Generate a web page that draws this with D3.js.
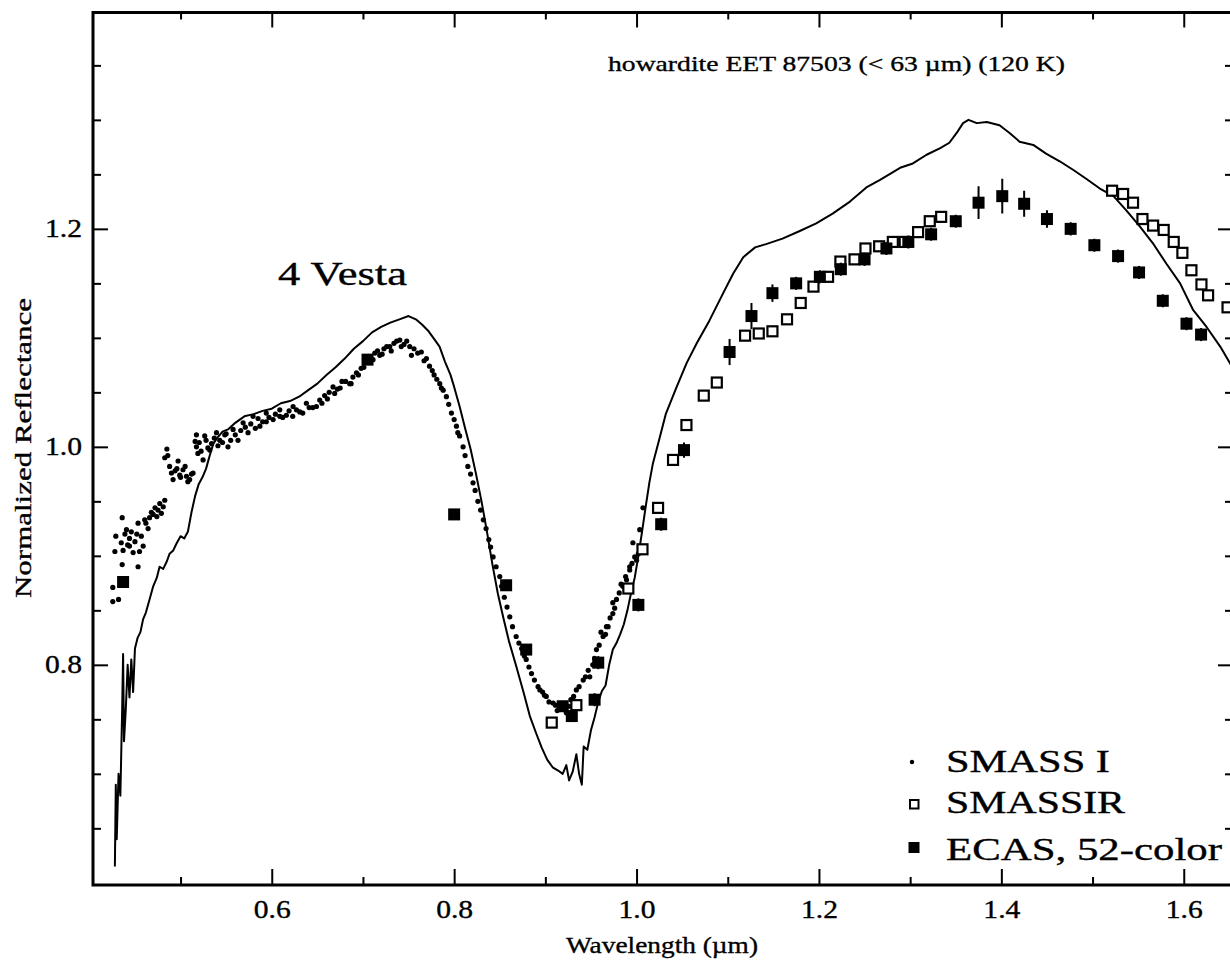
<!DOCTYPE html>
<html>
<head>
<meta charset="utf-8">
<script src="https://cdn.jsdelivr.net/npm/d3@7"></script>
<style>
  body { margin: 0; background: #fff; }
  svg { display: block; }
  text { font-family: "Liberation Serif", "Times New Roman", Times, serif; fill: #000; stroke: #000; stroke-width: 0.35px; }
</style>
</head>
<body>
<svg id="chart" width="1230" height="971"></svg>
<script>
// Howardite EET 87503 (<63 µm, 120 K) laboratory spectrum
const labWave = [0.428,0.429,0.430,0.432,0.434,0.436,0.437,0.438,0.440,0.442,0.444,0.446,0.448,0.450,0.453,0.456,0.459,0.462,0.466,0.470,0.474,0.477,0.481,0.485,0.488,0.492,0.496,0.500,0.504,0.508,0.512,0.516,0.520,0.524,0.528,0.532,0.536,0.540,0.546,0.552,0.560,0.570,0.580,0.590,0.600,0.610,0.620,0.630,0.640,0.650,0.660,0.670,0.680,0.690,0.700,0.710,0.720,0.730,0.740,0.750,0.758,0.765,0.772,0.778,0.784,0.790,0.796,0.800,0.806,0.812,0.818,0.824,0.830,0.836,0.842,0.848,0.854,0.860,0.868,0.876,0.883,0.890,0.896,0.902,0.908,0.914,0.919,0.923,0.926,0.930,0.934,0.937,0.940,0.942,0.946,0.950,0.954,0.958,0.962,0.966,0.970,0.974,0.978,0.982,0.986,0.990,0.994,0.998,1.002,1.006,1.010,1.014,1.018,1.024,1.032,1.044,1.055,1.066,1.080,1.095,1.106,1.117,1.130,1.142,1.160,1.179,1.197,1.215,1.234,1.252,1.267,1.289,1.303,1.318,1.333,1.343,1.351,1.358,1.364,1.373,1.384,1.398,1.409,1.420,1.435,1.449,1.464,1.479,1.493,1.508,1.523,1.537,1.552,1.566,1.581,1.596,1.610,1.625,1.640,1.654];
const labRefl = [0.615,0.690,0.640,0.700,0.680,0.760,0.810,0.730,0.760,0.800,0.770,0.805,0.775,0.815,0.825,0.830,0.842,0.848,0.860,0.872,0.880,0.890,0.888,0.895,0.902,0.905,0.912,0.918,0.916,0.922,0.940,0.955,0.966,0.972,0.980,0.992,1.003,1.008,1.014,1.016,1.022,1.028,1.030,1.033,1.035,1.040,1.042,1.046,1.052,1.058,1.066,1.073,1.081,1.090,1.097,1.105,1.110,1.114,1.117,1.120,1.117,1.112,1.106,1.099,1.092,1.078,1.066,1.055,1.037,1.017,0.998,0.975,0.950,0.922,0.892,0.865,0.843,0.822,0.799,0.775,0.753,0.737,0.724,0.713,0.706,0.703,0.700,0.708,0.694,0.702,0.718,0.700,0.690,0.725,0.722,0.740,0.752,0.766,0.776,0.781,0.800,0.814,0.820,0.828,0.837,0.850,0.866,0.880,0.900,0.922,0.945,0.967,0.985,1.004,1.030,1.055,1.077,1.095,1.116,1.141,1.159,1.174,1.183,1.186,1.191,1.198,1.205,1.214,1.225,1.238,1.245,1.256,1.260,1.268,1.274,1.279,1.288,1.297,1.300,1.297,1.298,1.295,1.288,1.280,1.277,1.269,1.262,1.254,1.246,1.237,1.230,1.217,1.202,1.187,1.168,1.150,1.126,1.110,1.092,1.072];

// SMASS I (visible CCD spectrum of 4 Vesta)
const smassWave = [0.4257,0.4257,0.432,0.436,0.428,0.435,0.429,0.436,0.444,0.448,0.455,0.459,0.450,0.4534,0.4407,0.444,0.457,0.4534,0.4607,0.4644,0.470,0.4753,0.479,0.4827,0.4772,0.472,0.466,0.485,0.4827,0.488,0.4918,0.4973,0.4991,0.5027,0.5065,0.510,0.5137,0.494,0.5174,0.5174,0.519,0.5265,0.5247,0.530,0.534,0.5394,0.543,0.5485,0.552,0.5576,0.563,0.5686,0.574,0.5795,0.587,0.594,0.594,0.6015,0.6088,0.6088,0.616,0.6234,0.623,0.6307,0.638,0.645,0.649,0.6526,0.658,0.663,0.6672,0.672,0.677,0.6855,0.689,0.6929,0.698,0.7038,0.708,0.713,0.7184,0.723,0.7294,0.734,0.7404,0.745,0.7513,0.7532,0.7696,0.773,0.778,0.7842,0.788,0.7915,0.797,0.8025,0.806,0.8098,0.815,0.8207,0.826,0.832,0.838,0.8427,0.850,0.855,0.861,0.868,0.874,0.879,0.8848,0.892,0.897,0.901,0.9085,0.9158,0.923,0.928,0.934,0.9415,0.9487,0.952,0.956,0.9633,0.9688,0.974,0.978,0.985,0.9925,1.000,1.005,0.967,0.974,0.989,0.9925,0.996,1.0035,1.007,
  0.437,0.439,0.442,0.446,0.452,0.462,0.468,0.474,0.481,0.486,0.490,0.496,0.500,0.505,0.508,0.512,0.516,0.5205,0.5225,0.528,0.532,0.537,0.541,0.546,0.550,0.555,0.560,0.566,0.571,0.577,0.582,0.585,0.590,0.597,0.604,0.612,0.619,0.627,0.634,0.641,0.655,0.661,0.669,0.675,0.681,0.687,0.695,0.701,0.706,0.711,0.716,0.721,0.726,0.731,0.737,0.742,0.748,0.756,0.760,0.764,0.767,0.776,0.781,0.786,0.794,0.800,0.804,0.812,0.818,0.823,0.829,0.835,0.840,0.846,0.852,0.858,0.864,0.871,0.877,0.882,0.888,0.894,0.899,0.904,0.911,0.913,0.919,0.926,0.931,0.937,0.944,0.947,0.954,0.959,0.961,0.966,0.971,0.976,0.981,0.983,0.988,0.995,0.998,1.002];
const smassRefl = [0.871,0.858,0.860,0.892,0.904,0.912,0.918,0.935,0.909,0.903,0.904,0.909,0.913,0.890,0.924,0.916,0.918,0.930,0.933,0.925,0.938,0.942,0.939,0.951,0.948,0.944,0.935,0.998,0.990,0.982,0.970,0.987,0.974,0.979,0.973,0.970,0.976,0.978,1.011,1.000,0.994,1.010,0.988,0.999,1.003,1.013,1.006,1.011,1.000,1.016,1.006,1.022,1.013,1.028,1.019,1.031,1.023,1.025,1.034,1.028,1.029,1.037,1.028,1.032,1.040,1.036,1.037,1.043,1.047,1.050,1.055,1.053,1.060,1.058,1.064,1.068,1.072,1.080,1.078,1.086,1.084,1.090,1.092,1.095,1.098,1.094,1.092,1.084,1.081,1.074,1.066,1.058,1.052,1.046,1.031,1.019,1.010,1.000,0.982,0.967,0.950,0.933,0.915,0.899,0.881,0.862,0.844,0.826,0.815,0.805,0.792,0.780,0.775,0.771,0.765,0.762,0.756,0.768,0.777,0.786,0.789,0.800,0.814,0.826,0.835,0.847,0.860,0.872,0.887,0.896,0.904,0.835,0.857,0.878,0.890,0.912,0.924,0.944,
  0.905,0.920,0.910,0.922,0.920,0.930,0.940,0.936,0.945,0.992,0.976,0.980,0.972,0.982,0.968,0.975,1.005,1.004,0.996,1.006,0.997,1.008,1.001,1.004,1.012,1.006,1.011,1.015,1.018,1.021,1.017,1.026,1.023,1.027,1.030,1.027,1.033,1.034,1.031,1.036,1.040,1.044,1.049,1.054,1.060,1.058,1.066,1.073,1.083,1.080,1.088,1.085,1.092,1.088,1.097,1.092,1.097,1.090,1.086,1.087,1.079,1.070,1.062,1.054,1.039,1.025,1.013,0.992,0.975,0.960,0.942,0.925,0.908,0.890,0.872,0.853,0.835,0.820,0.808,0.798,0.786,0.777,0.772,0.766,0.763,0.758,0.759,0.762,0.771,0.780,0.789,0.795,0.806,0.818,0.830,0.828,0.843,0.852,0.866,0.874,0.881,0.893,0.899,0.902];

// SMASSIR (near-infrared spectrum)
const irWave = [0.907,0.934,0.991,1.0065,1.0236,1.040,1.0547,1.0737,1.088,1.119,1.134,1.149,1.165,1.180,1.194,1.210,1.2235,1.239,1.251,1.266,1.281,1.294,1.3087,1.3215,1.334,1.5214,1.5335,1.5444,1.5547,1.5664,1.578,1.589,1.5985,1.6084,1.6194,1.6267,1.648];
const irRefl = [0.747,0.763,0.870,0.906,0.944,0.988,1.020,1.047,1.059,1.102,1.104,1.106,1.117,1.132,1.147,1.156,1.170,1.172,1.182,1.184,1.188,1.188,1.197,1.207,1.211,1.235,1.232,1.224,1.209,1.203,1.199,1.188,1.178,1.162,1.149,1.139,1.128];

// ECAS and 52-color photometry with 1-sigma errors
const ecasWave = [0.437,0.705,0.800,0.857,0.879,0.919,0.929,0.954,0.958,1.002,1.027,1.052,1.102,1.126,1.149,1.175,1.201,1.224,1.250,1.274,1.298,1.323,1.350,1.375,1.401,1.425,1.450,1.476,1.502,1.528,1.551,1.577,1.603,1.619];
const ecasRefl = [0.876,1.080,0.938,0.873,0.814,0.762,0.753,0.768,0.802,0.855,0.929,0.997,1.087,1.120,1.141,1.150,1.156,1.163,1.172,1.182,1.188,1.195,1.207,1.224,1.230,1.223,1.209,1.200,1.185,1.175,1.160,1.134,1.113,1.103];
const ecasErr = [0.004,0.004,0.005,0.005,0.005,0.005,0.005,0.006,0.006,0.006,0.006,0.007,0.012,0.012,0.008,0.006,0.006,0.006,0.006,0.006,0.006,0.006,0.006,0.015,0.016,0.012,0.008,0.006,0.006,0.006,0.006,0.006,0.006,0.006];

// Axis ticks and labels
const xMajor = [0.6, 0.8, 1.0, 1.2, 1.4, 1.6];
const xMajorLabels = ["0.6", "0.8", "1.0", "1.2", "1.4", "1.6"];
const xMinor = [0.5, 0.7, 0.9, 1.1, 1.3, 1.5];
const yMajor = [0.8, 1.0, 1.2];
const yMajorLabels = ["0.8", "1.0", "1.2"];
const yMinor = [0.65, 0.7, 0.75, 0.85, 0.9, 0.95, 1.05, 1.1, 1.15, 1.25, 1.3, 1.35];
const legendLabels = ["SMASS I", "SMASSIR", "ECAS, 52-color"];

const svg = d3.select("#chart");
const frame = { left: 93, right: 1233, top: 12.5, bottom: 885 };

const x = d3.scaleLinear().domain([0.404, 1.654]).range([frame.left, frame.right]);
const y = d3.scaleLinear().domain([0.598, 1.3985]).range([frame.bottom, frame.top]);

// Serif text fitted to a given width in px
function label(g, str, px, py, size, width, anchor) {
  const t = g.append("text")
    .attr("x", px).attr("y", py)
    .attr("font-size", size)
    .attr("text-anchor", anchor || "start")
    .text(str);
  if (width) t.attr("textLength", width).attr("lengthAdjust", "spacingAndGlyphs");
  return t;
}

svg.append("clipPath").attr("id", "clip")
  .append("rect").attr("x", frame.left).attr("y", frame.top)
  .attr("width", frame.right - frame.left).attr("height", frame.bottom - frame.top);

const marks = svg.append("g").attr("clip-path", "url(#clip)");

// Laboratory spectrum line
const labData = labWave.map((w, i) => [w, labRefl[i]]);
marks.append("path")
  .datum(labData)
  .attr("fill", "none")
  .attr("stroke", "#000")
  .attr("stroke-width", 2)
  .attr("stroke-linejoin", "round")
  .attr("d", d3.line().x(d => x(d[0])).y(d => y(d[1])));

// SMASS I dots
marks.append("g").selectAll("circle")
  .data(smassWave.map((w, i) => [w, smassRefl[i]]))
  .join("circle")
  .attr("cx", d => x(d[0])).attr("cy", d => y(d[1]))
  .attr("r", 2.6).attr("fill", "#000");

// SMASSIR open squares
const sOpen = 10;
marks.append("g").selectAll("rect")
  .data(irWave.map((w, i) => [w, irRefl[i]]))
  .join("rect")
  .attr("x", d => x(d[0]) - sOpen / 2).attr("y", d => y(d[1]) - sOpen / 2)
  .attr("width", sOpen).attr("height", sOpen)
  .attr("fill", "#fff").attr("stroke", "#000").attr("stroke-width", 2.2);

// ECAS / 52-color filled squares with error bars
const sFill = 12;
const ecas = ecasWave.map((w, i) => ({ w, r: ecasRefl[i], e: ecasErr[i] }));
const eg = marks.append("g");
eg.selectAll("line")
  .data(ecas)
  .join("line")
  .attr("x1", d => x(d.w)).attr("x2", d => x(d.w))
  .attr("y1", d => y(d.r - d.e)).attr("y2", d => y(d.r + d.e))
  .attr("stroke", "#000").attr("stroke-width", 2);
eg.selectAll("rect")
  .data(ecas)
  .join("rect")
  .attr("x", d => x(d.w) - sFill / 2).attr("y", d => y(d.r) - sFill / 2)
  .attr("width", sFill).attr("height", sFill)
  .attr("fill", "#000");

// Axes: inward ticks on all four sides
const axes = svg.append("g");
function tickStyle(g) {
  g.select(".domain").remove();
  g.selectAll(".tick line").attr("stroke", "#000").attr("stroke-width", 2);
}
const bottomMajor = axes.append("g").attr("transform", `translate(0,${frame.bottom})`)
  .call(d3.axisBottom(x).tickValues(xMajor).tickSize(-16).tickPadding(15)
    .tickFormat((d, i) => xMajorLabels[i]))
  .call(tickStyle);
bottomMajor.selectAll("text")
  .attr("font-size", 25)
  .attr("textLength", 37).attr("lengthAdjust", "spacingAndGlyphs");
axes.append("g").attr("transform", `translate(0,${frame.bottom})`)
  .call(d3.axisBottom(x).tickValues(xMinor).tickSize(-8).tickFormat(""))
  .call(tickStyle);
axes.append("g").attr("transform", `translate(0,${frame.top})`)
  .call(d3.axisTop(x).tickValues(xMajor).tickSize(-15).tickFormat(""))
  .call(tickStyle);
axes.append("g").attr("transform", `translate(0,${frame.top})`)
  .call(d3.axisTop(x).tickValues(xMinor).tickSize(-7).tickFormat(""))
  .call(tickStyle);

const leftMajor = axes.append("g").attr("transform", `translate(${frame.left},0)`)
  .call(d3.axisLeft(y).tickValues(yMajor).tickSize(-15).tickPadding(11)
    .tickFormat((d, i) => yMajorLabels[i]))
  .call(tickStyle);
leftMajor.selectAll("text")
  .attr("font-size", 25)
  .attr("textLength", 37).attr("lengthAdjust", "spacingAndGlyphs");
axes.append("g").attr("transform", `translate(${frame.left},0)`)
  .call(d3.axisLeft(y).tickValues(yMinor).tickSize(-8).tickFormat(""))
  .call(tickStyle);
axes.append("g").attr("transform", `translate(${frame.right},0)`)
  .call(d3.axisRight(y).tickValues(yMajor).tickSize(-15).tickFormat(""))
  .call(tickStyle);
axes.append("g").attr("transform", `translate(${frame.right},0)`)
  .call(d3.axisRight(y).tickValues(yMinor).tickSize(-8).tickFormat(""))
  .call(tickStyle);

// Frame
svg.append("rect")
  .attr("x", frame.left).attr("y", frame.top)
  .attr("width", frame.right - frame.left).attr("height", frame.bottom - frame.top)
  .attr("fill", "none").attr("stroke", "#000").attr("stroke-width", 3);

// Titles and annotations
const txt = svg.append("g");
label(txt, "Wavelength (\u00b5m)", 662, 953, 24, 192, "middle");
const yl = label(txt, "Normalized Reflectance", 0, 0, 24, 300, "middle");
yl.attr("transform", "translate(31,448) rotate(-90)");
label(txt, "4 Vesta", 278, 285, 33, 129, "start");
label(txt, "howardite EET 87503 (< 63 \u00b5m) (120 K)", 608, 71, 22, 457, "start");

// Legend
const lg = svg.append("g");
const legendX = 946, legendBase = [772, 813, 860];
label(lg, legendLabels[0], legendX, legendBase[0], 31, 164, "start");
label(lg, legendLabels[1], legendX, legendBase[1], 31, 179, "start");
label(lg, legendLabels[2], legendX, legendBase[2], 31, 276, "start");
lg.append("circle").attr("cx", 912).attr("cy", 762).attr("r", 2.2).attr("fill", "#000");
lg.append("rect").attr("x", 910).attr("y", 800).attr("width", 8.5).attr("height", 8.5)
  .attr("fill", "#fff").attr("stroke", "#000").attr("stroke-width", 2);
lg.append("rect").attr("x", 908.5).attr("y", 842).attr("width", 11).attr("height", 11)
  .attr("fill", "#000");
</script>
</body>
</html>
